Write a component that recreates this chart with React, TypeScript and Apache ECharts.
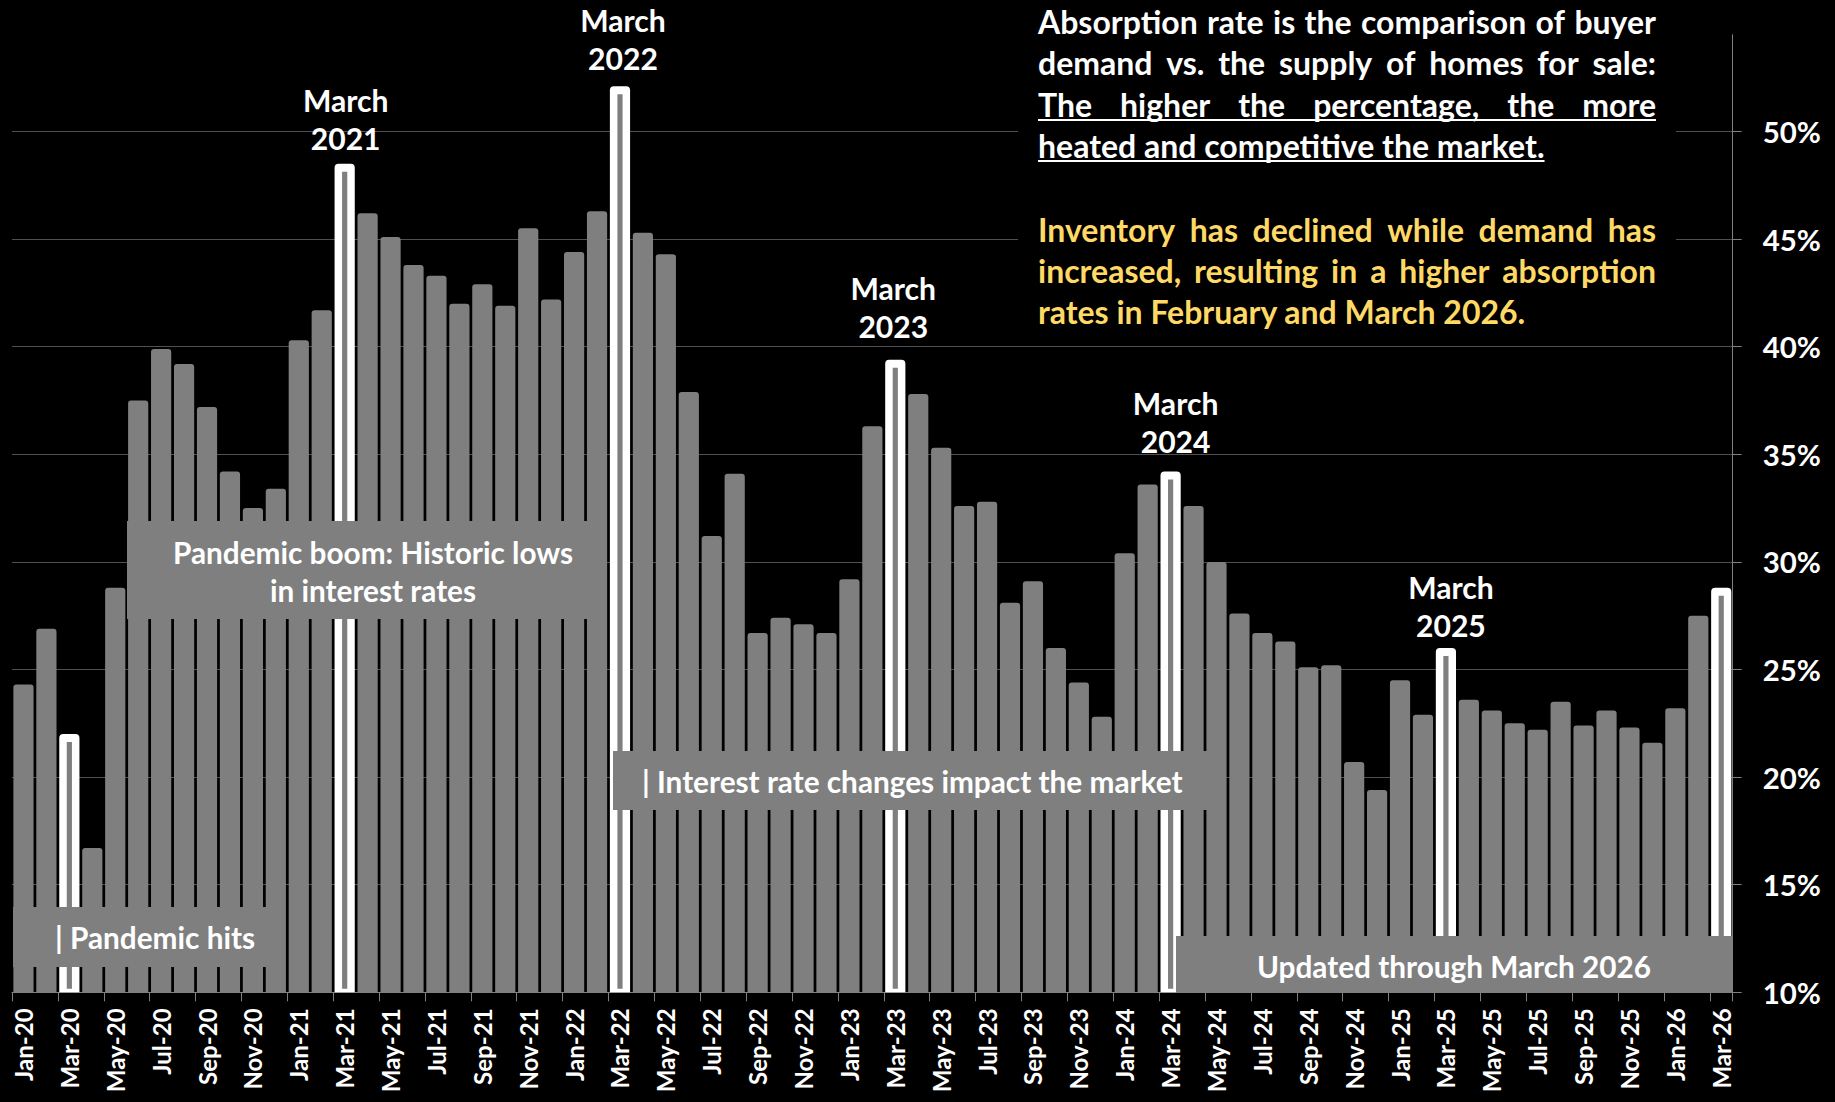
import React, { useEffect, useRef } from "react";
import * as echarts from "echarts";

// ---------- DATA ----------
const categories = [
  "Jan-20", "Feb-20", "Mar-20", "Apr-20", "May-20", "Jun-20", "Jul-20", "Aug-20", "Sep-20", "Oct-20", "Nov-20", "Dec-20",
  "Jan-21", "Feb-21", "Mar-21", "Apr-21", "May-21", "Jun-21", "Jul-21", "Aug-21", "Sep-21", "Oct-21", "Nov-21", "Dec-21",
  "Jan-22", "Feb-22", "Mar-22", "Apr-22", "May-22", "Jun-22", "Jul-22", "Aug-22", "Sep-22", "Oct-22", "Nov-22", "Dec-22",
  "Jan-23", "Feb-23", "Mar-23", "Apr-23", "May-23", "Jun-23", "Jul-23", "Aug-23", "Sep-23", "Oct-23", "Nov-23", "Dec-23",
  "Jan-24", "Feb-24", "Mar-24", "Apr-24", "May-24", "Jun-24", "Jul-24", "Aug-24", "Sep-24", "Oct-24", "Nov-24", "Dec-24",
  "Jan-25", "Feb-25", "Mar-25", "Apr-25", "May-25", "Jun-25", "Jul-25", "Aug-25", "Sep-25", "Oct-25", "Nov-25", "Dec-25",
  "Jan-26", "Feb-26", "Mar-26",
];

// absorption rate, percent
const absorption = [
  24.3, 26.9, 22.0, 16.7, 28.8, 37.5, 39.9, 39.2, 37.2, 34.2, 32.5, 33.4,
  40.3, 41.7, 48.5, 46.2, 45.1, 43.8, 43.3, 42.0, 42.9, 41.9, 45.5, 42.2,
  44.4, 46.3, 52.1, 45.3, 44.3, 37.9, 31.2, 34.1, 26.7, 27.4, 27.1, 26.7,
  29.2, 36.3, 39.4, 37.8, 35.3, 32.6, 32.8, 28.1, 29.1, 26.0, 24.4, 22.8,
  30.4, 33.6, 34.2, 32.6, 30.0, 27.6, 26.7, 26.3, 25.1, 25.2, 20.7, 19.4,
  24.5, 22.9, 26.0, 23.6, 23.1, 22.5, 22.2, 23.5, 22.4, 23.1, 22.3, 21.6,
  23.2, 27.5, 28.8,
];

const highlighted = ["Mar-20", "Mar-21", "Mar-22", "Mar-23", "Mar-24", "Mar-25", "Mar-26"];
const highlightLabels: Record<string, string> = {
  "Mar-21": "March\n2021",
  "Mar-22": "March\n2022",
  "Mar-23": "March\n2023",
  "Mar-24": "March\n2024",
  "Mar-25": "March\n2025",
};

const yMin = 10;
const yMax = 54.5;
const yStep = 5;

const noteParagraph1 = [
  "Absorption rate is the comparison of buyer",
  "demand vs. the supply of homes for sale:",
  "The higher the percentage, the more",
  "heated and competitive the market.",
];
const noteParagraph2 = [
  "Inventory has declined while demand has",
  "increased, resulting in a higher absorption",
  "rates in February and March 2026.",
];

const boxTexts = {
  pandemicHits: "| Pandemic hits",
  boom: "Pandemic boom: Historic lows\nin interest rates",
  rates: "| Interest rate changes impact the market",
  updated: "Updated through March 2026",
};

// ---------- STYLE / LAYOUT ----------
const FONT = "Lato";
const GRAY = "#7f7f7f";
const YELLOW = "#FFD966";
const labelTweaks: Record<string, { distance: number; dx: number }> = {
  "Mar-21": { distance: 7, dx: 1 },
  "Mar-22": { distance: 9, dx: 3 },
  "Mar-23": { distance: 15, dx: -2 },
  "Mar-24": { distance: 12, dx: 5 },
  "Mar-25": { distance: 4, dx: 5 },
};

let measureCtx: CanvasRenderingContext2D | null = null;
function measure(text: string, size: number): number {
  if (!measureCtx) measureCtx = document.createElement("canvas").getContext("2d");
  if (!measureCtx) return text.length * size * 0.5;
  measureCtx.font = `bold ${size}px ${FONT}`;
  return measureCtx.measureText(text).width;
}

export default function App() {
  const ref = useRef<HTMLDivElement>(null);

  useEffect(() => {
    if (!ref.current) return;
    const chart = echarts.init(ref.current, null, { renderer: "svg" });

    // Font size chosen so the note block matches the reference width
    let S = (100 * 516) / measure("heated and competitive the market.", 100);
    S = Math.max(24, Math.min(32, S));
    const SB = S * 0.93; // annotation boxes
    const SL = S * 0.94; // March labels
    let SX = (100 * 84) / measure("May-20", 100); // x-axis labels
    SX = Math.max(20, Math.min(30, SX));

    const textLeft = 1038;
    const textRight = 1656;
    const textW = textRight - textLeft;
    const lineYs1 = [21, 62, 104, 145];
    const lineYs2 = [229, 270, 311];

    const graphics: any[] = [];
    // black panel behind note text (hides gridlines)
    graphics.push({ type: "rect", z: 1, silent: true, shape: { x: 1018, y: 0, width: 658, height: 330 }, style: { fill: "#000" } });

    const addLine = (text: string, y: number, color: string, justify: boolean) => {
      if (!justify) {
        graphics.push({
          type: "text", z: 101, x: textLeft, y,
          style: { text, fill: color, fontSize: S, fontWeight: "bold", fontFamily: FONT, align: "left", verticalAlign: "middle" },
        });
        return measure(text, S);
      }
      const words = text.split(" ");
      const widths = words.map((w) => measure(w, S));
      const total = widths.reduce((a, b) => a + b, 0);
      const gap = (textW - total) / (words.length - 1);
      let x = textLeft;
      words.forEach((w, i) => {
        graphics.push({
          type: "text", z: 101, x, y,
          style: { text: w, fill: color, fontSize: S, fontWeight: "bold", fontFamily: FONT, align: "left", verticalAlign: "middle" },
        });
        x += widths[i] + gap;
      });
      return textW;
    };

    noteParagraph1.forEach((t, i) => {
      const w = addLine(t, lineYs1[i], "#fff", i < noteParagraph1.length - 1);
      if (i >= 2) {
        graphics.push({
          type: "line", z: 101, silent: true,
          shape: { x1: textLeft, y1: lineYs1[i] + 16, x2: textLeft + w, y2: lineYs1[i] + 16 },
          style: { stroke: "#fff", lineWidth: 2 },
        });
      }
    });
    noteParagraph2.forEach((t, i) => {
      addLine(t, lineYs2[i], YELLOW, i < noteParagraph2.length - 1);
    });

    // annotation boxes
    const box = (x: number, y: number, w: number, h: number) =>
      graphics.push({ type: "rect", z: 100, silent: true, shape: { x, y, width: w, height: h }, style: { fill: GRAY } });
    const boxText = (text: string, x: number, y: number, align: string, lineHeight = 38) =>
      graphics.push({
        type: "text", z: 101, x, y,
        style: { text, fill: "#fff", fontSize: SB, fontWeight: "bold", fontFamily: FONT, align, verticalAlign: "middle", lineHeight },
      });

    box(13, 907, 271, 60);
    boxText(boxTexts.pandemicHits, 55, 937, "left");
    box(127, 521, 480, 98);
    boxText(boxTexts.boom, 373, 571, "center");
    box(613, 751, 594, 59);
    boxText(boxTexts.rates, 642, 781, "left");
    box(1176, 936, 556, 57);
    boxText(boxTexts.updated, 1454, 966, "center");

    const barData = absorption.map((v, i) => {
      const cat = categories[i];
      if (!highlighted.includes(cat)) return v;
      const item: any = {
        value: v,
        itemStyle: { color: "#fff", borderRadius: [4, 4, 0, 0] },
      };
      if (highlightLabels[cat]) {
        const tw = labelTweaks[cat] || { distance: 8, dx: 0 };
        item.label = { show: true, formatter: highlightLabels[cat], distance: tw.distance, offset: [tw.dx, 0] };
      }
      return item;
    });

    const stripData = absorption
      .map((v, i) => [i, v])
      .filter((d) => highlighted.includes(categories[d[0]]));

    const option: any = {
      animation: false,
      backgroundColor: "#000",
      grid: { left: 12, right: 102.3, top: 34.7, bottom: 109.7, containLabel: false, outerBoundsMode: "none" },
      xAxis: {
        type: "category",
        data: categories,
        boundaryGap: true,
        axisLine: { show: true, lineStyle: { color: "#808080", width: 1 } },
        axisTick: { show: true, interval: 1, length: 9, lineStyle: { color: "#808080" } },
        axisLabel: {
          interval: 1,
          rotate: 90,
          margin: 16,
          color: "#fff",
          fontFamily: FONT,
          fontWeight: "bold",
          fontSize: SX,
        },
        splitLine: { show: false },
      },
      yAxis: {
        type: "value",
        position: "right",
        min: yMin,
        max: yMax,
        interval: yStep,
        axisLine: { show: true, lineStyle: { color: "#808080", width: 1 } },
        axisTick: { show: true, length: 9, lineStyle: { color: "#808080" } },
        axisLabel: {
          margin: 30,
          color: "#fff",
          fontFamily: FONT,
          fontWeight: "bold",
          fontSize: S * 0.92,
          showMaxLabel: false,
          formatter: (v: number) => (Math.abs(v / yStep - Math.round(v / yStep)) < 1e-6 ? `${Math.round(v)}%` : ""),
        },
        splitLine: { show: true, showMaxLine: false, lineStyle: { color: "#505050", width: 1 } },
      },
      series: [
        {
          type: "bar",
          data: barData,
          barWidth: "88%",
          z: 2,
          itemStyle: { color: GRAY, borderRadius: [3, 3, 0, 0] },
          label: {
            show: false,
            position: "top",
            color: "#fff",
            fontFamily: FONT,
            fontWeight: "bold",
            fontSize: SL,
            lineHeight: 38,
            align: "center",
          },
          silent: true,
        },
        {
          type: "custom",
          data: stripData,
          z: 3,
          silent: true,
          renderItem: (params: any, api: any) => {
            const idx = api.value(0);
            const top = api.coord([idx, api.value(1)]);
            const base = api.coord([idx, yMin]);
            const band = api.size([1, 0])[0];
            const barW = band * 0.88;
            const inner = Math.max(3, barW - 15);
            return {
              type: "rect",
              shape: { x: top[0] - inner / 2, y: top[1] + 8, width: inner, height: base[1] - 3.5 - (top[1] + 8) },
              style: { fill: GRAY },
            };
          },
        },
      ],
      graphic: graphics,
    };

    chart.setOption(option);
    return () => chart.dispose();
  }, []);

  return (
    <div
      ref={ref}
      style={{ position: "fixed", left: 0, top: 0, width: 1835, height: 1102, background: "#000" }}
    />
  );
}
